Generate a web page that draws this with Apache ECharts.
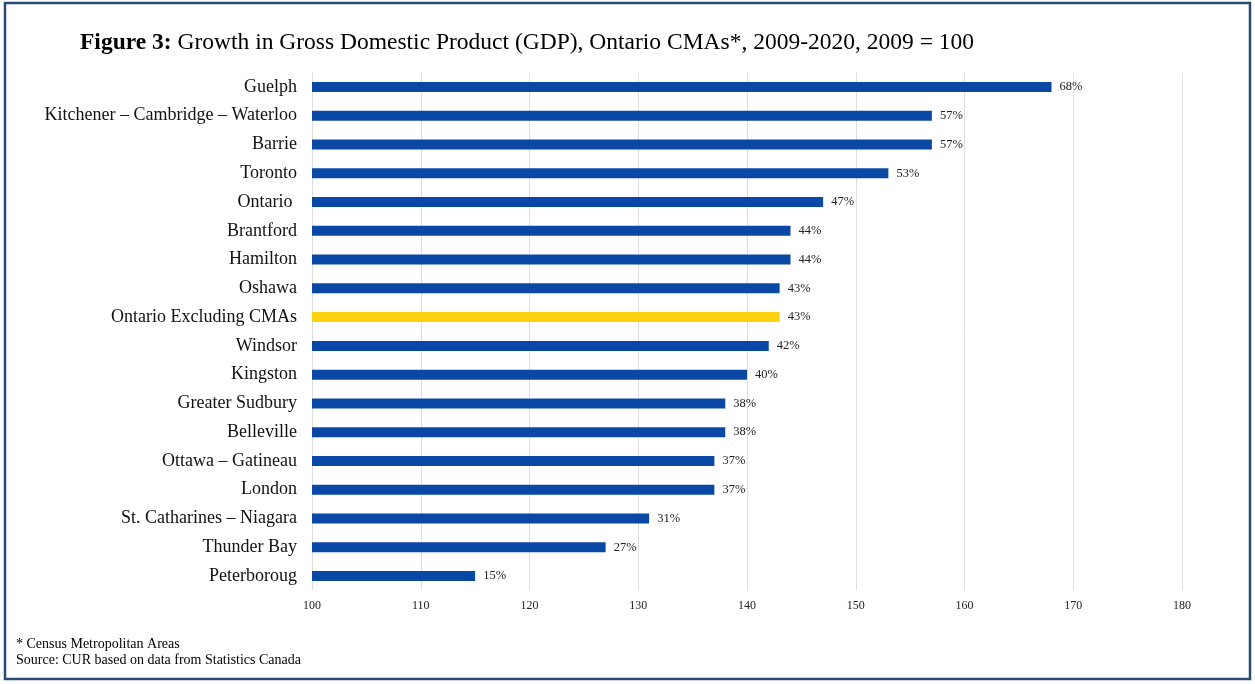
<!DOCTYPE html>
<html>
<head>
<meta charset="utf-8">
<script src="https://cdn.jsdelivr.net/npm/echarts@6/dist/echarts.min.js"></script>
<style>
html,body{margin:0;padding:0;background:#fff;}
#chart{width:1255px;height:684px;}
</style>
</head>
<body>
<div id="chart"></div>
<script>
const categories = ["Guelph","Kitchener – Cambridge – Waterloo","Barrie","Toronto","Ontario ","Brantford","Hamilton","Oshawa","Ontario Excluding CMAs","Windsor","Kingston","Greater Sudbury","Belleville","Ottawa – Gatineau","London","St. Catharines – Niagara","Thunder Bay","Peterboroug"];
const values = [168,157,157,153,147,144,144,143,143,142,140,138,138,137,137,131,127,115];
const highlighted = ["Ontario Excluding CMAs"];
const xTicks = [100,110,120,130,140,150,160,170,180];

const SERIF = '"Liberation Serif","DejaVu Serif","Times New Roman",serif';
const chart = echarts.init(document.getElementById('chart'), null, {renderer:'canvas'});
chart.setOption({
  backgroundColor:'#ffffff',
  animation:false,
  title:{
    text:'{b|Figure 3:} Growth in Gross Domestic Product (GDP), Ontario CMAs*, 2009-2020, 2009 = 100',
    left:80, top:31, padding:0,
    textStyle:{fontFamily:SERIF,fontSize:23.5,color:'#000',fontWeight:'normal',
      rich:{b:{fontFamily:SERIF,fontSize:23.5,fontWeight:'bold',color:'#000'}}}
  },
  graphic:[
    {type:'rect',shape:{x:5,y:3,width:1245,height:676},style:{fill:'none',stroke:'#2b4a73',lineWidth:2.5}},
    {type:'text',left:16,top:636,style:{text:'* Census Metropolitan Areas\nSource: CUR based on data from Statistics Canada',font:'14px '+SERIF,fill:'#000',lineHeight:16}}
  ],
  grid:{left:312,right:73,top:72.6,bottom:93.6,containLabel:false},
  xAxis:{
    type:'value',min:100,max:180,interval:10,
    axisLine:{show:false},axisTick:{show:false},
    axisLabel:{fontFamily:SERIF,fontSize:12,color:'#222',margin:9},
    splitLine:{show:true,lineStyle:{color:'#dedede',width:1}}
  },
  yAxis:{
    type:'category',data:categories,inverse:true,
    axisLine:{show:false},axisTick:{show:false},
    axisLabel:{fontFamily:SERIF,fontSize:18,color:'#111',margin:15}
  },
  series:[{
    type:'bar',
    data:values.map((v,i)=>({value:v,itemStyle:{color:highlighted.includes(categories[i])?'#fcd20f':'#0a48a6'}})),
    barWidth:10,
    label:{show:true,position:'right',distance:8,fontFamily:SERIF,fontSize:12.5,color:'#222',
      formatter:p=>Math.round(p.value-100)+'%'}
  }]
});
</script>
</body>
</html>
